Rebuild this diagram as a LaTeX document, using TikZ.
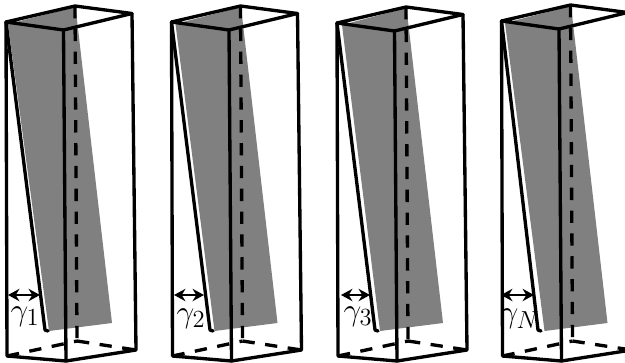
\RequirePackage{fix-cm}
\documentclass[tikz,border=0pt]{standalone}
\usetikzlibrary{arrows.meta,calc}
\definecolor{ShearGray}{HTML}{808080}

\begin{document}
\begin{tikzpicture}[x=0.02cm,y=-0.02cm]
    \tikzset{wall/.style={black,line width=1.9pt,line join=round,line cap=round},
      hid/.style={black,line width=1.9pt,dash pattern=on 7pt off 6pt},
      gap/.style={black,line width=1.3pt,{Stealth[length=6.5pt,width=7pt]}-{Stealth[length=6.5pt,width=7pt]}},
      lab/.style={font=\fontsize{18}{21}\selectfont,inner sep=0pt}}
    \useasboundingbox (0,0) rectangle (625,362);
    \clip (0,0) rectangle (625,362);
    % offset, top shift, sheet corner, line foot, arrow ends, label
    \foreach \nm/\xo/\yo/\gx/\fx/\al/\ar/\lx/\ly/\tg in {1/0/0/8/45/8/40/25/317/1,2/165.5/0/10/44.5/8.5/38.5/25.5/319/2,3/331/1/11/44/10/39/27/317/3,4/495.5/-1/9.5/42.5/5.5/38.5/24.5/319/N}{
      \begin{scope}[xshift=\xo*0.02cm]
        \coordinate (lt\nm) at (6,22+\yo);
        \coordinate (ft\nm) at (63.5,30+\yo);
        \coordinate (rt\nm) at (132,13.5+\yo);
        \coordinate (bt\nm) at (75,6+\yo);
        \coordinate (lb\nm) at (7,356);
        \coordinate (fb\nm) at (66,361);
        \coordinate (rb\nm) at (136,350);
        \coordinate (bb\nm) at (77,341);
        \coordinate (ln\nm) at (\fx,330);
        \coordinate (a\nm) at (\al,295);
        \coordinate (c\nm) at (\ar,295);
        \fill[ShearGray] (\gx,24+\yo)--(75.5,7+\yo)--(112,323)--(49,331)--cycle;
        \draw[hid] (bt\nm)--(bb\nm);
        \draw[hid] (bb\nm)--(rb\nm);
        \draw[hid] (lb\nm)--(bb\nm);
        \draw[wall] (lt\nm)--(bt\nm)--(rt\nm)--(ft\nm)--cycle;
        \draw[wall] (lt\nm)--(lb\nm)--(fb\nm)--(rb\nm)--(rt\nm);
        \draw[wall] (ft\nm)--(fb\nm);
        \draw[wall] (lt\nm)--(ln\nm)--++(3,1);
        \draw[gap] (a\nm)--(c\nm);
        \node[lab] (g\nm) at (\lx,\ly) {$\gamma_{\mbox{\fontsize{14}{14}\selectfont$\tg$}}$};
      \end{scope}
    }
\end{tikzpicture}
\end{document}
